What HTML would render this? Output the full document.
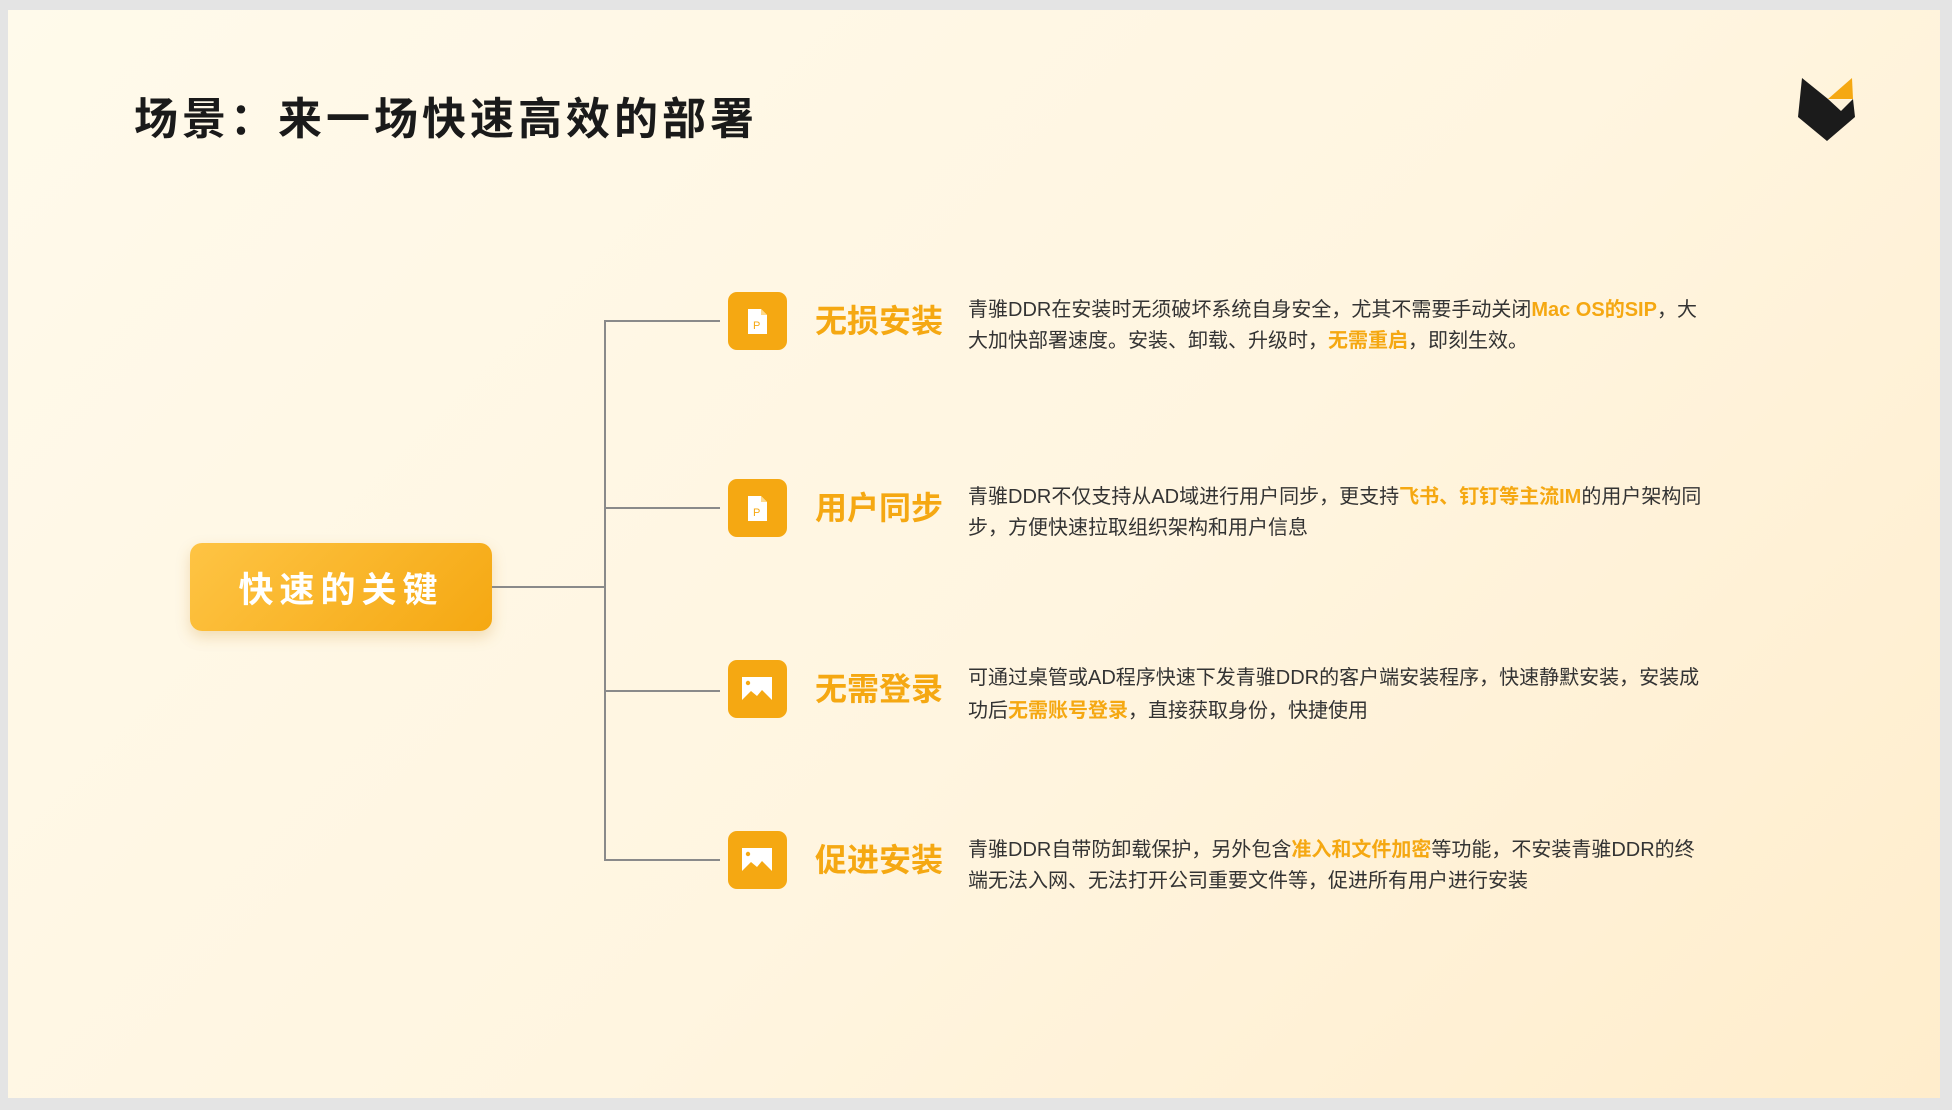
<!DOCTYPE html>
<html><head><meta charset="utf-8"><style>
html,body{margin:0;padding:0;}
body{width:1952px;height:1110px;background:#e4e4e4;position:relative;overflow:hidden;font-family:"Liberation Sans","Noto Sans CJK SC",sans-serif;}
.slide{position:absolute;left:8px;top:10px;width:1932px;height:1088px;background:linear-gradient(135deg,#fffaeb 0%,#fff5e0 55%,#ffedcc 100%);}
.abs{position:absolute;}
.title{left:134px;top:83px;font-size:44px;font-weight:bold;color:#1a1a1a;letter-spacing:4px;white-space:nowrap;}
.center{left:190px;top:543px;width:302px;height:88px;border-radius:12px;background:linear-gradient(135deg,#fec444,#f5a812);box-shadow:0 6px 14px rgba(200,140,30,0.25);color:#fff;font-size:35px;font-weight:bold;letter-spacing:6px;display:flex;align-items:center;justify-content:center;}
.line{background:#8a8a8a;}
.icon{left:728px;width:59px;height:58px;border-radius:9px;background:#f5a812;}
.h{left:815px;font-size:32px;font-weight:bold;color:#f5a812;white-space:nowrap;letter-spacing:0px;}
.d{left:968px;width:737px;font-size:20px;line-height:31px;color:#333;}
.o{color:#f5a812;font-weight:bold;}
</style></head><body>
<div class="slide"></div>
<div class="abs title">场景：来一场快速高效的部署</div>
<svg class="abs" style="left:0;top:0" width="1952" height="1110">
<polygon points="1802,78 1828,99 1841,111 1853,99 1855,117 1827,141 1798,117" fill="#1b1b1b"/>
<polygon points="1828,99 1852,78 1853,99" fill="#f5a812"/>
</svg>
<div class="abs center">快速的关键</div>
<div class="abs line" style="left:492px;top:586px;width:113px;height:2px"></div>
<div class="abs line" style="left:604px;top:321px;width:2px;height:540px"></div>
<div class="abs line" style="left:604px;top:320px;width:116px;height:2px"></div>
<div class="abs line" style="left:604px;top:507px;width:116px;height:2px"></div>
<div class="abs line" style="left:604px;top:690px;width:116px;height:2px"></div>
<div class="abs line" style="left:604px;top:859px;width:116px;height:2px"></div>

<div class="abs icon" style="top:292px"><svg width="59" height="58"><path d="M20 17h13l6 6v19h-19z" fill="#fff"/><path d="M33 17v6h6z" fill="#ffd98a"/><text x="25" y="37" font-size="11" fill="#f5a812" font-family="Liberation Sans">P</text></svg></div>
<div class="abs icon" style="top:479px"><svg width="59" height="58"><path d="M20 17h13l6 6v19h-19z" fill="#fff"/><path d="M33 17v6h6z" fill="#ffd98a"/><text x="25" y="37" font-size="11" fill="#f5a812" font-family="Liberation Sans">P</text></svg></div>
<div class="abs icon" style="top:660px"><svg width="59" height="58"><rect x="14" y="17" width="30" height="23" fill="#fff"/><circle cx="20" cy="23" r="2.2" fill="#f5a812"/><path d="M14 40l9-9 6 5 5-6 10 10z" fill="#f5a812"/></svg></div>
<div class="abs icon" style="top:831px"><svg width="59" height="58"><rect x="14" y="17" width="30" height="23" fill="#fff"/><circle cx="20" cy="23" r="2.2" fill="#f5a812"/><path d="M14 40l9-9 6 5 5-6 10 10z" fill="#f5a812"/></svg></div>

<div class="abs h" style="top:296px">无损安装</div>
<div class="abs h" style="top:483px">用户同步</div>
<div class="abs h" style="top:664px">无需登录</div>
<div class="abs h" style="top:835px">促进安装</div>

<div class="abs d" style="top:295px">青骓DDR在安装时无须破坏系统自身安全，尤其不需要手动关闭<span class="o">Mac OS的SIP</span>，大大加快部署速度。安装、卸载、升级时，<span class="o">无需重启</span>，即刻生效。</div>
<div class="abs d" style="top:482px">青骓DDR不仅支持从AD域进行用户同步，更支持<span class="o">飞书、钉钉等主流IM</span>的用户架构同步，方便快速拉取组织架构和用户信息</div>
<div class="abs d" style="top:662px;line-height:33px">可通过桌管或AD程序快速下发青骓DDR的客户端安装程序，快速静默安装，安装成功后<span class="o">无需账号登录</span>，直接获取身份，快捷使用</div>
<div class="abs d" style="top:835px">青骓DDR自带防卸载保护，另外包含<span class="o">准入和文件加密</span>等功能，不安装青骓DDR的终端无法入网、无法打开公司重要文件等，促进所有用户进行安装</div>
</body></html>
